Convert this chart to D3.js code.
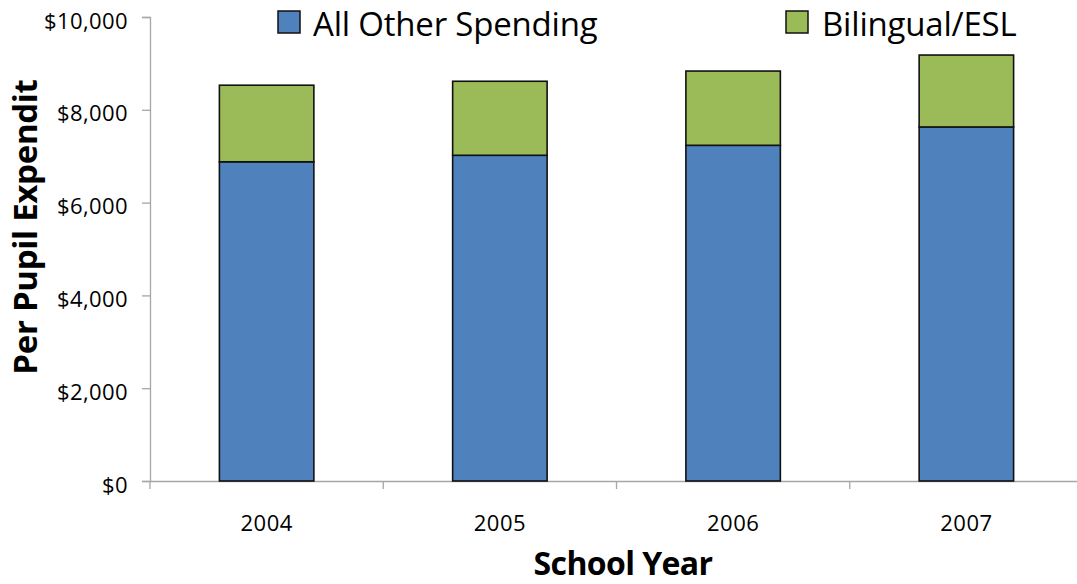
<!DOCTYPE html>
<html>
<head>
<meta charset="utf-8">
<script src="https://cdn.jsdelivr.net/npm/d3@7"></script>
<style>
  html, body { margin: 0; padding: 0; background: #fff; }
  svg { display: block; font-family: "Open Sans", "DejaVu Sans", sans-serif; }
</style>
</head>
<body>
<svg id="chart" width="1077" height="584"></svg>
<script>
// School years and per-pupil spending, split into two stacked parts
const years = ["2004", "2005", "2006", "2007"];
const otherSpending = [6880, 7020, 7235, 7630];
const bilingualESL = [1650, 1595, 1600, 1550];
const seriesNames = ["All Other Spending", "Bilingual/ESL"];
const seriesColors = ["#4f81bd", "#9bbb59"];
const yTicks = [0, 2000, 4000, 6000, 8000, 10000];

const FONT = '"Open Sans", "DejaVu Sans", sans-serif';
const svg = d3.select("#chart");
const plotLeft = 150, plotRight = 1083, plotTop = 17, plotBottom = 481;

const x = d3.scaleBand().domain(years).range([plotLeft, plotRight]).paddingInner(0).paddingOuter(0);
const y = d3.scaleLinear().domain([0, 10000]).range([plotBottom, plotTop]);
const barW = x.bandwidth() * 0.405;

const rows = years.map((yr, i) => ({ year: yr, other: otherSpending[i], esl: bilingualESL[i] }));
const stacked = d3.stack().keys(["other", "esl"])(rows);

// Axes
const fmt = d => "$" + d3.format(",")(d);
const yAxis = svg.append("g").attr("transform", `translate(${plotLeft},0)`)
  .call(d3.axisLeft(y).tickValues(yTicks).tickFormat(fmt).tickSize(8).tickPadding(14))
  .attr("font-family", FONT);
yAxis.select(".domain").attr("stroke", "#a6a6a6").attr("stroke-width", 1.3);
yAxis.selectAll(".tick line").attr("stroke", "#a6a6a6").attr("stroke-width", 1.3);
yAxis.selectAll(".tick text").attr("font-size", 22).attr("fill", "#000")
  .attr("letter-spacing", 0.4).attr("dy", "0.5em");

const xAxis = svg.append("g").attr("transform", `translate(0,${plotBottom})`)
  .call(d3.axisBottom(x).tickSize(0).tickPadding(0))
  .attr("font-family", FONT);
xAxis.select(".domain").attr("stroke", "#a6a6a6").attr("stroke-width", 1.3);
xAxis.selectAll(".tick line").remove();
xAxis.selectAll(".tick text").attr("font-size", 22).attr("fill", "#000")
  .attr("letter-spacing", 0.5).attr("y", 50).attr("dy", 0);
// Category separators below the baseline
const seps = x.domain().map(d => x(d)).concat([plotRight]);
xAxis.selectAll(".sep").data(seps).enter().append("line")
  .attr("x1", d => d).attr("x2", d => d).attr("y1", 0).attr("y2", 8)
  .attr("stroke", "#a6a6a6").attr("stroke-width", 1.3);

// Stacked bars
svg.append("g").selectAll("g").data(stacked).enter().append("g")
  .attr("fill", (d, i) => seriesColors[i])
  .selectAll("rect").data(d => d).enter().append("rect")
  .attr("x", d => x(d.data.year) + (x.bandwidth() - barW) / 2)
  .attr("width", barW)
  .attr("y", d => y(d[1]))
  .attr("height", d => y(d[0]) - y(d[1]))
  .attr("stroke", "#111").attr("stroke-width", 1.6);

// Axis titles
svg.append("text").attr("x", 623).attr("y", 575).attr("text-anchor", "middle")
  .attr("font-size", 32).attr("font-weight", "bold").attr("letter-spacing", -0.6)
  .text("School Year");
svg.append("text").attr("transform", "translate(37,227) rotate(-90)").attr("text-anchor", "middle")
  .attr("font-size", 33).attr("font-weight", "bold").attr("letter-spacing", -0.3)
  .text("Per Pupil Expendit");

// Legend
const legendPos = [{ sx: 278, tx: 313 }, { sx: 786, tx: 822 }];
const legend = svg.append("g").selectAll("g").data(seriesNames).enter().append("g");
legend.append("rect").attr("x", (d, i) => legendPos[i].sx).attr("y", 11)
  .attr("width", 22).attr("height", 22)
  .attr("fill", (d, i) => seriesColors[i]).attr("stroke", "#111").attr("stroke-width", 1.5);
legend.append("text").attr("x", (d, i) => legendPos[i].tx).attr("y", 36)
  .attr("font-size", 33).attr("fill", "#000").attr("letter-spacing", -0.2)
  .text(d => d);
</script>
</body>
</html>
